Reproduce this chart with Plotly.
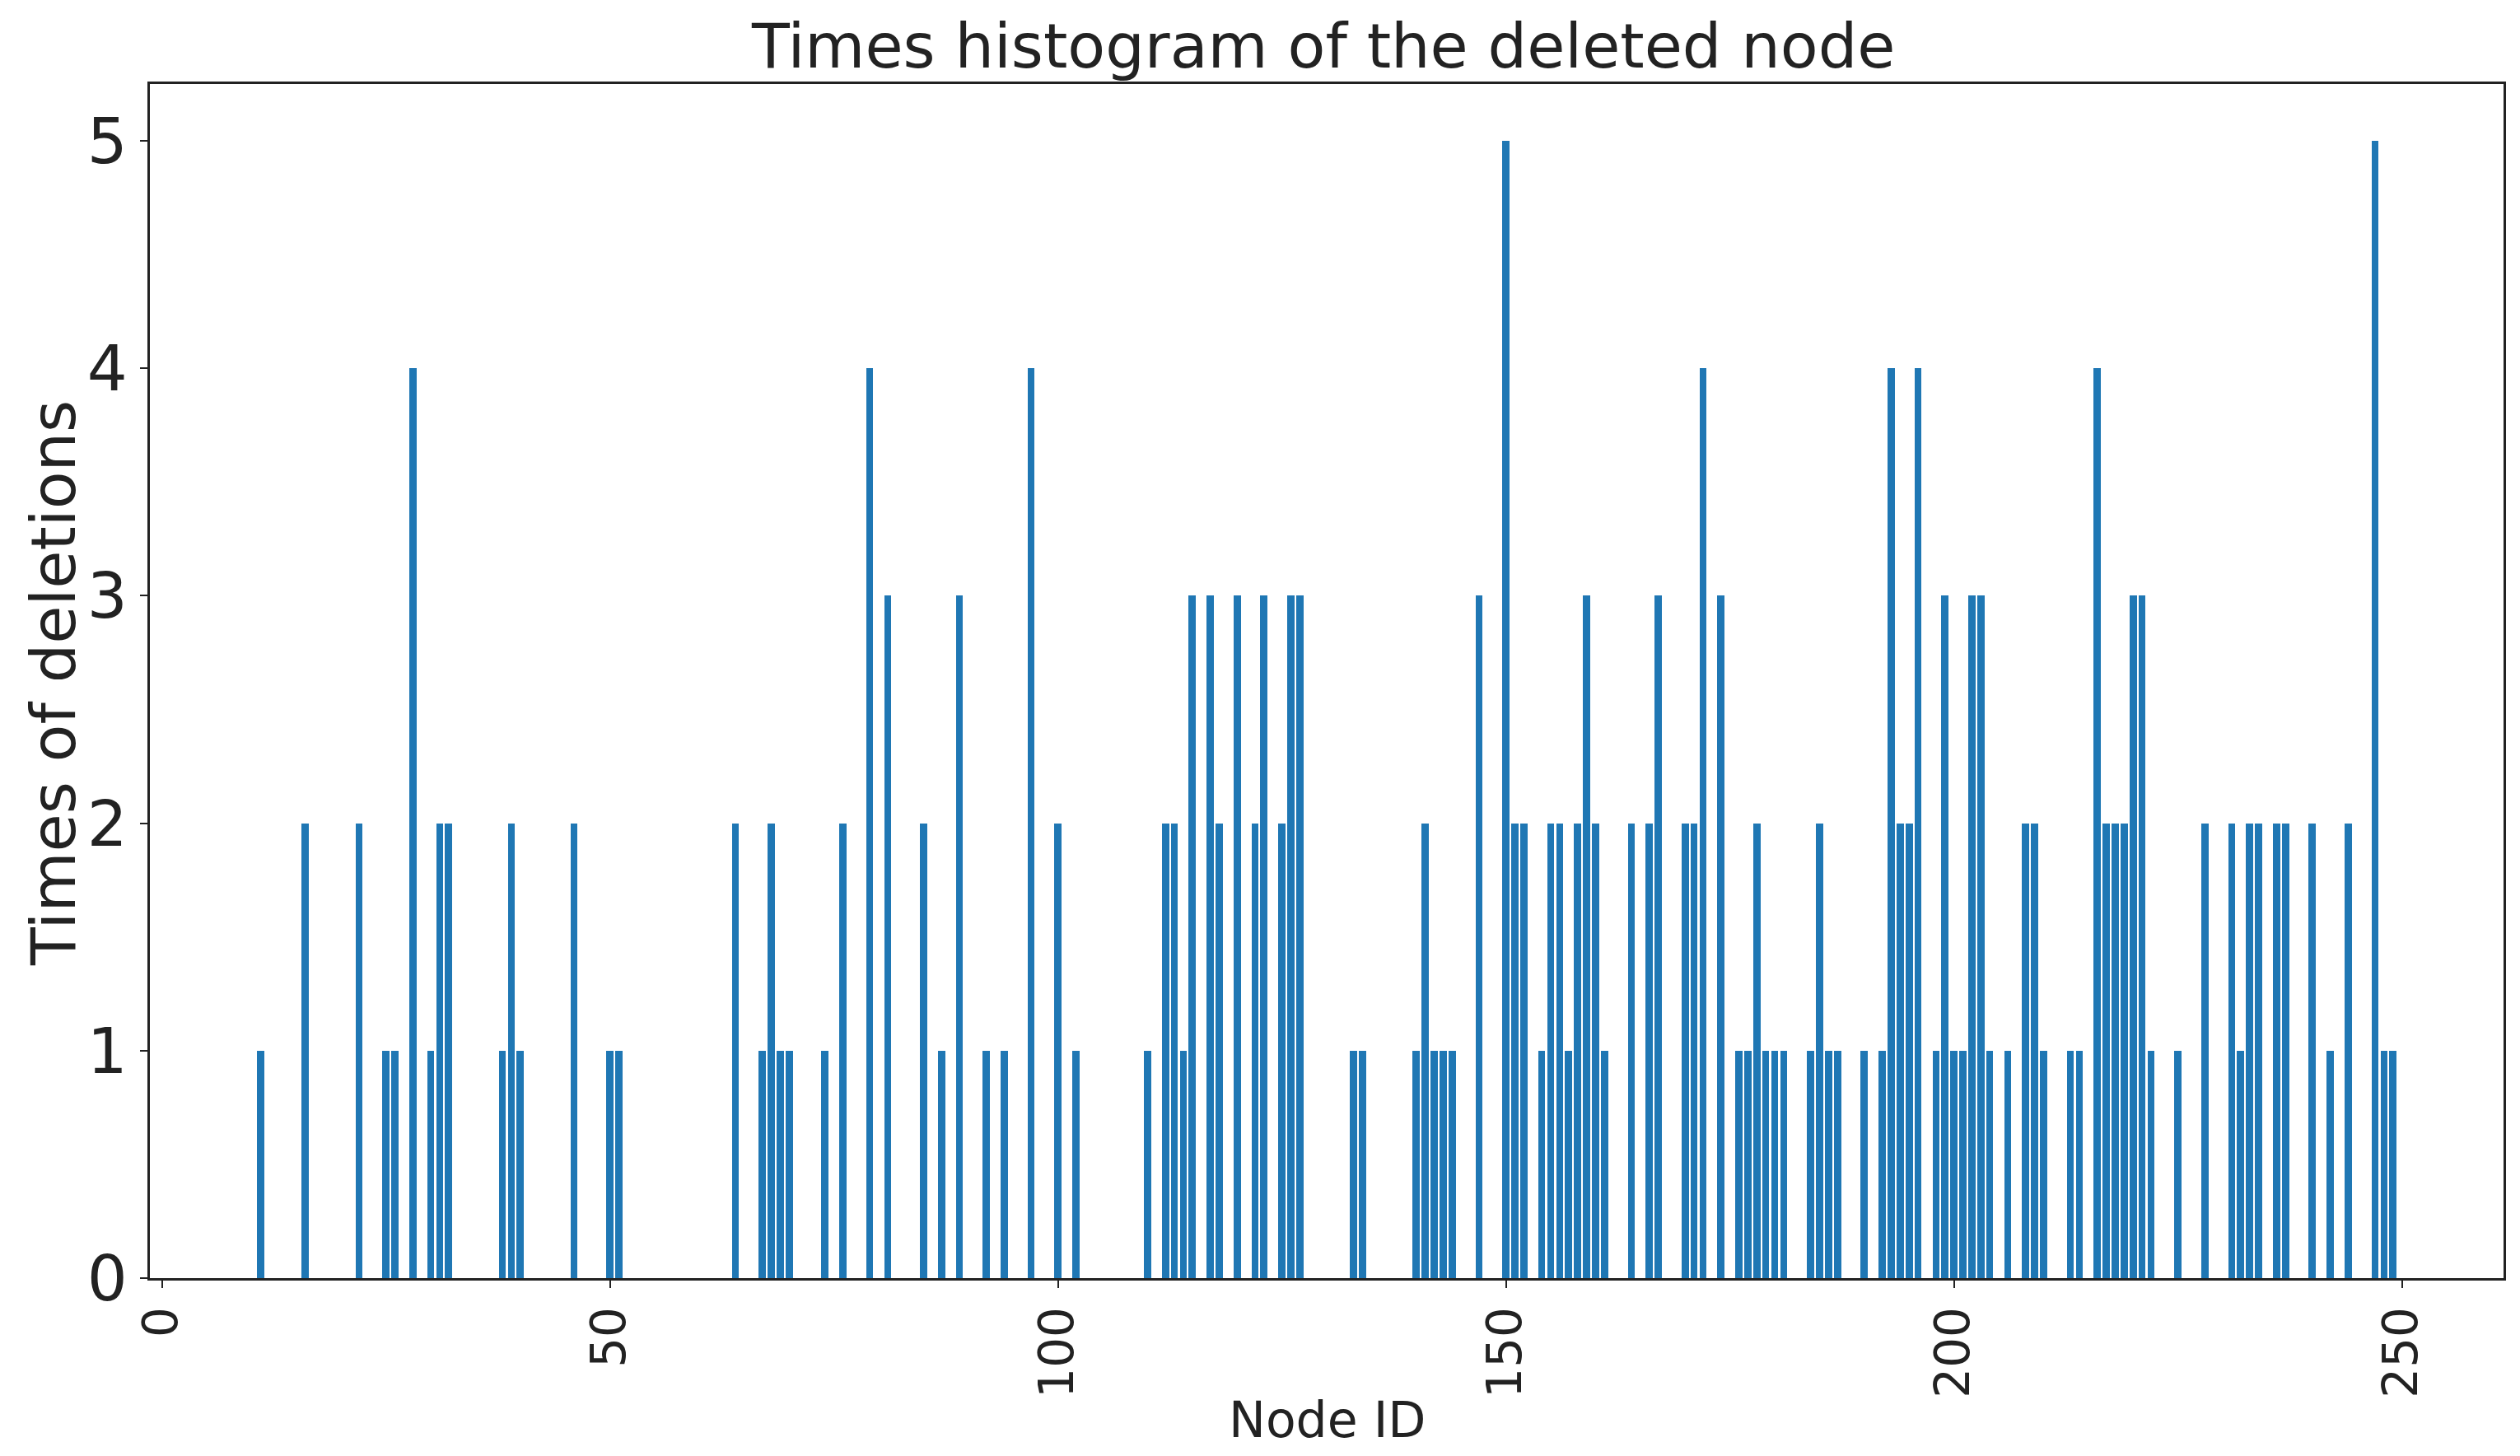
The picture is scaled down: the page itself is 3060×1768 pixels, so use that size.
import plotly.graph_objects as go

node_ids = [11, 16, 22, 25, 26, 28, 30, 31, 32, 38, 39, 40, 46, 50, 51, 64, 67, 68, 69, 70,
            74, 76, 79, 81, 85, 87, 89, 92, 94, 97, 100, 102, 110, 112, 113, 114, 115, 117, 118, 120,
            122, 123, 125, 126, 127, 133, 134, 140, 141, 142, 143, 144, 147, 150, 151, 152, 154, 155, 156, 157,
            158, 159, 160, 161, 164, 166, 167, 170, 171, 172, 174, 176, 177, 178, 179, 180, 181, 184, 185, 186,
            187, 190, 192, 193, 194, 195, 196, 198, 199, 200, 201, 202, 203, 204, 206, 208, 209, 210, 213, 214,
            216, 217, 218, 219, 220, 221, 222, 225, 228, 231, 232, 233, 234, 236, 237, 240, 242, 244, 247, 248,
            249]
deletions = [1, 2, 2, 1, 1, 4, 1, 2, 2, 1, 2, 1, 2, 1, 1, 2, 1, 2, 1, 1,
             1, 2, 4, 3, 2, 1, 3, 1, 1, 4, 2, 1, 1, 2, 2, 1, 3, 3, 2, 3,
             2, 3, 2, 3, 3, 1, 1, 1, 2, 1, 1, 1, 3, 5, 2, 2, 1, 2, 2, 1,
             2, 3, 2, 1, 2, 2, 3, 2, 2, 4, 3, 1, 1, 2, 1, 1, 1, 1, 2, 1,
             1, 1, 1, 4, 2, 2, 4, 1, 3, 1, 1, 3, 3, 1, 1, 2, 2, 1, 1, 1,
             4, 2, 2, 2, 3, 3, 1, 1, 2, 2, 1, 2, 2, 2, 2, 2, 1, 2, 5, 1,
             1]
x_ticks = [0, 50, 100, 150, 200, 250]
y_ticks = [0, 1, 2, 3, 4, 5]

TITLE = "Times histogram of the deleted node"
XLABEL = "Node ID"
YLABEL = "Times of deletions"

FONT = "DejaVu Sans"
INK = "#222222"

fig = go.Figure(go.Bar(x=node_ids, y=deletions, width=0.8,
                       marker=dict(color="#1f77b4", line=dict(width=0))))

axis_common = dict(showgrid=False, zeroline=False, showline=True, linecolor=INK,
                   linewidth=2.6, mirror=True, ticks="outside", ticklen=9,
                   tickwidth=2.4, tickcolor=INK, automargin=False)

fig.update_layout(
    width=3060, height=1768,
    margin=dict(l=174, r=28, t=94, b=224, autoexpand=False),
    plot_bgcolor="white", paper_bgcolor="white",
    showlegend=False,
    bargap=0,
    xaxis=dict(range=[-1.34, 261.34], tickvals=x_ticks, ticktext=[str(v) for v in x_ticks],
               tickangle=-90, tickfont=dict(family=FONT, size=58, color=INK), **axis_common),
    yaxis=dict(range=[0, 5.25], tickvals=y_ticks, ticktext=[str(v) for v in y_ticks],
               tickfont=dict(family=FONT, size=77, color=INK), **axis_common),
    annotations=[
        dict(text=TITLE, xref="paper", yref="paper", x=0.4986, y=1, xanchor="center",
             yanchor="middle", yshift=46, showarrow=False,
             font=dict(family=FONT, size=75, color=INK)),
        dict(text=XLABEL, xref="paper", yref="paper", x=0.5004, y=0, xanchor="center",
             yanchor="middle", yshift=-172, showarrow=False,
             font=dict(family=FONT, size=60, color=INK)),
        dict(text=YLABEL, xref="paper", yref="paper", x=0, y=0.498, xanchor="center",
             yanchor="middle", xshift=-117, textangle=-90, showarrow=False,
             font=dict(family=FONT, size=75, color=INK)),
    ],
)

fig.write_html("out.html")
